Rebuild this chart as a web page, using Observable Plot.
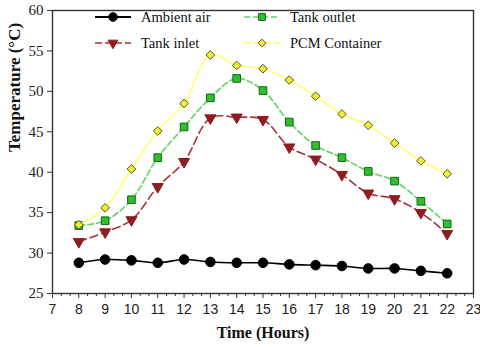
<!DOCTYPE html>
<html><head><meta charset="utf-8">
<script src="https://cdn.jsdelivr.net/npm/d3@7"></script>
<script src="https://cdn.jsdelivr.net/npm/@observablehq/plot@0.6"></script>
<style>
body{margin:0;background:#fff;}
#wrap{position:relative;width:480px;height:347px;overflow:hidden;}
.leg{position:absolute;font-family:"Liberation Serif","Times New Roman","DejaVu Serif",serif;font-size:14.5px;color:#111;display:flex;align-items:center;white-space:nowrap;line-height:1;}
.leg span{font-family:"Liberation Serif","Times New Roman","DejaVu Serif",serif;}
.leg svg{margin-right:9px;}
</style></head><body><div id="wrap"></div>
<script>
const hours = [8, 9, 10, 11, 12, 13, 14, 15, 16, 17, 18, 19, 20, 21, 22];
const ambientAir   = [28.8, 29.2, 29.1, 28.8, 29.2, 28.9, 28.8, 28.8, 28.6, 28.5, 28.4, 28.1, 28.1, 27.8, 27.5];
const tankOutlet   = [33.4, 34.0, 36.6, 41.8, 45.6, 49.2, 51.6, 50.1, 46.2, 43.3, 41.8, 40.1, 38.9, 36.4, 33.6];
const tankInlet    = [31.4, 32.6, 34.1, 38.2, 41.3, 46.7, 46.8, 46.5, 43.1, 41.6, 39.7, 37.4, 36.7, 35.0, 32.4];
const pcmContainer = [33.5, 35.6, 40.4, 45.1, 48.5, 54.5, 53.2, 52.8, 51.4, 49.4, 47.2, 45.8, 43.6, 41.4, 39.8];
const seriesNames = ["Ambient air", "Tank outlet", "Tank inlet", "PCM Container"];
const yTicks = [25, 30, 35, 40, 45, 50, 55, 60];
const xTicks = [7, 8, 9, 10, 11, 12, 13, 14, 15, 16, 17, 18, 19, 20, 21, 22, 23];
const xMinorTicks = d3.range(7, 23.001, 1 / 3).filter(v => Math.abs(v - Math.round(v)) > 1e-6);

const values = [ambientAir, tankOutlet, tankInlet, pcmContainer];
const styles = [
  {line: "#000", dash: null, legDash: null, width: 1.6, symbol: "circle", r: 4.8, fill: "#000", stroke: "#000", rotate: 0},
  {line: "#5fd65f", dash: "6,3", legDash: "6,3", width: 1.6, symbol: "square", r: 4.3, fill: "#2fbf2f", stroke: "#126612", rotate: 0},
  {line: "#a8323a", dash: "8,4", legDash: "7,3", width: 1.6, symbol: "triangle", r: 4.1, fill: "#8e1c22", stroke: "#8e1c22", rotate: 180},
  {line: "#ffff80", dash: null, legDash: "7,3", width: 1.8, symbol: "diamond2", r: 3.9, fill: "#eeee3a", stroke: "#5a5a10", rotate: 0}
];

const serif = "Liberation Serif, Times New Roman, DejaVu Serif, serif";
const sans = "Liberation Sans, Arial, sans-serif";

const marks = [];
values.forEach((vals, k) => {
  const rows = hours.map((h, i) => ({hour: h, temp: vals[i], series: seriesNames[k]}));
  const s = styles[k];
  marks.push(Plot.line(rows, {x: "hour", y: "temp", stroke: s.line, strokeWidth: s.width, strokeDasharray: s.dash, curve: "catmull-rom"}));
  marks.push(Plot.dot(rows, {x: "hour", y: "temp", symbol: () => s.symbol, r: s.r, fill: s.fill, stroke: s.stroke, strokeWidth: 1, rotate: s.rotate}));
});

const chart = Plot.plot({
  width: 480, height: 347,
  marginLeft: 52, marginRight: 7, marginTop: 10, marginBottom: 54,
  style: {background: "#fff", overflow: "visible"},
  x: {domain: [7, 23]},
  y: {domain: [25, 60]},
  symbol: {type: "identity"},
  marks: [
    Plot.axisY(yTicks, {tickSize: 5, tickPadding: 4, fontSize: 15, fontFamily: serif, fill: "#222", stroke: "#333", label: null}),
    Plot.axisX(xTicks, {tickSize: 5, tickPadding: 6, fontSize: 14, fontFamily: sans, fill: "#222", stroke: "#333", label: null}),
    Plot.axisX(xMinorTicks, {tickSize: 3, tickFormat: () => "", stroke: "#333", label: null}),
    ...marks,
    Plot.frame({stroke: "#333", strokeWidth: 1.4}),
    Plot.text(["Temperature (°C)"], {frameAnchor: "left", dx: -38, rotate: -90, fontSize: 17, fontWeight: "bold", fontFamily: serif, fill: "#111"}),
    Plot.text(["Time (Hours)"], {frameAnchor: "bottom", dy: 44, fontSize: 16, fontWeight: "bold", fontFamily: serif, fill: "#111"})
  ]
});
d3.select(chart).selectAll('g[aria-label="y-axis tick label"], g[aria-label="y-axis tick label"] text')
  .attr("font-family", serif).style("font-family", serif);
d3.select(chart).selectAll('g[aria-label="x-axis tick label"], g[aria-label="x-axis tick label"] text')
  .attr("font-family", sans).style("font-family", sans);
const wrap = document.getElementById("wrap");
wrap.appendChild(chart);

// legend
const legPos = [[94, 17], [243, 17], [94, 43], [243, 43]];
[0, 1, 2, 3].forEach((k, j) => {
  const s = styles[k];
  const div = document.createElement("div");
  div.className = "leg";
  div.style.left = legPos[j][0] + "px";
  div.style.top = (legPos[j][1] - 9) + "px";
  div.style.height = "18px";
  const w = 38, h = 14;
  const svg = d3.create("svg").attr("width", w).attr("height", h);
  svg.append("line").attr("x1", 1).attr("x2", w - 1).attr("y1", h / 2).attr("y2", h / 2)
    .attr("stroke", s.line).attr("stroke-width", k === 0 ? 2 : s.width).attr("stroke-dasharray", s.legDash);
  const sym = {circle: d3.symbolCircle, square: d3.symbolSquare, triangle: d3.symbolTriangle, diamond2: d3.symbolDiamond2}[s.symbol];
  svg.append("path").attr("d", d3.symbol(sym, Math.PI * s.r * s.r * 0.8)())
    .attr("transform", `translate(${w / 2},${h / 2}) rotate(${s.rotate})`)
    .attr("fill", s.fill).attr("stroke", s.stroke).attr("stroke-width", 1);
  div.appendChild(svg.node());
  const span = document.createElement("span");
  span.textContent = seriesNames[k];
  div.appendChild(span);
  wrap.appendChild(div);
});
</script></body></html>
